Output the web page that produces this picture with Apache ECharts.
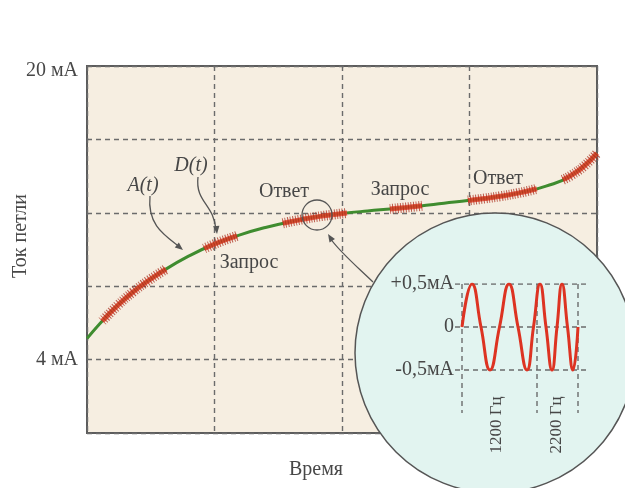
<!DOCTYPE html>
<html><head><meta charset="utf-8">
<script src="https://cdn.jsdelivr.net/npm/echarts@6/dist/echarts.min.js"></script>
<style>html,body{margin:0;padding:0;background:#fff}#c{width:625px;height:488px}</style>
</head><body><div id="c"></div>
<script>
// Main loop current curve: time (0..100, 4 grid columns) and current, mA
const timeT  = [0, 2.5, 5, 10, 15, 20, 25, 30, 35, 40, 45, 50, 55, 60, 65, 70, 75, 80, 85, 90, 95, 100];
const loopMA = [5.15, 5.95, 6.7, 7.9, 8.85, 9.65, 10.3, 10.8, 11.2, 11.52, 11.78, 11.96, 12.1, 12.22, 12.36, 12.52, 12.68, 12.86, 13.1, 13.45, 14.05, 15.25];

// HART FSK bursts riding on the curve [time, mA]
const burst1 = [[3, 6.1], [6, 6.95], [9, 7.68], [12, 8.3], [15.5, 8.93]];
const burst2 = [[23, 10.05], [26, 10.41], [29.4, 10.74]];
const burst3 = [[38.4, 11.43], [42, 11.63], [46, 11.82], [51, 11.99]];
const burst4 = [[59.4, 12.21], [62.5, 12.29], [65.7, 12.38]];
const burst5 = [[74.7, 12.67], [78, 12.78], [81, 12.9], [84.5, 13.07], [88.2, 13.31]];
const burst6 = [[93.3, 13.8], [95, 14.05], [97.5, 14.55], [100, 15.25]];

// Main axis tick labels
const yTickLabels = { 20: '20 мА', 4: '4 мА' };

// Inset: FSK signal (x in inset units, amplitude in mA)
const waveX  = [7, 17, 26, 35, 44.5, 54, 63, 72, 78.5, 85, 91, 97, 102, 107, 112.5, 118, 123];
const waveMA = [0, 0.5, 0, -0.5, 0, 0.5, 0, -0.5, 0, 0.5, 0, -0.5, 0, 0.5, 0, -0.5, 0];
const insetLevels = [0.5, 0, -0.5];
const insetTickLabels = { '0.5': '+0,5мА', '0': '0', '-0.5': '-0,5мА' };
const insetMarks = [7, 82, 123];
const freqLabels = ['1200 Гц', '2200 Гц'];

const serif = '"Liberation Serif", "Times New Roman", serif';
const txt = '#474747';
const gridLine = { color: '#6b6b6b', type: [5, 4], width: 1.4 };

const chart = echarts.init(document.getElementById('c'), null, { renderer: 'canvas' });

const series = [];
series.push({
  type: 'line', xAxisIndex: 0, yAxisIndex: 0, z: 2, silent: true,
  data: timeT.map((t, i) => [t, loopMA[i]]),
  smooth: 0.5, showSymbol: false, symbol: 'none',
  lineStyle: { color: '#3f8c2f', width: 3 }
});
[burst1, burst2, burst3, burst4, burst5, burst6].forEach(b => {
  series.push({
    type: 'line', xAxisIndex: 0, yAxisIndex: 0, z: 3, silent: true,
    data: b, smooth: 0.5, symbol: 'none',
    lineStyle: { color: '#e8412a', width: 5, opacity: 0.85 }
  });
  series.push({
    type: 'line', xAxisIndex: 0, yAxisIndex: 0, z: 3, silent: true,
    data: b, smooth: 0.5, symbol: 'none',
    lineStyle: { color: '#a92c1c', width: 10, type: [1, 1.6], opacity: 0.75 }
  });
});
insetLevels.forEach(l => {
  series.push({
    type: 'line', xAxisIndex: 1, yAxisIndex: 1, z: 10, silent: true,
    data: [[0, l], [133, l]], symbol: 'none', lineStyle: gridLine
  });
});
insetMarks.forEach(m => {
  series.push({
    type: 'line', xAxisIndex: 1, yAxisIndex: 1, z: 10, silent: true,
    data: [[m, 0.5], [m, -1]], symbol: 'none', lineStyle: gridLine
  });
});
series.push({
  type: 'line', xAxisIndex: 1, yAxisIndex: 1, z: 11, silent: true,
  data: waveX.map((x, i) => [x, waveMA[i]]), smooth: 0.5, symbol: 'none',
  lineStyle: { color: '#dd3322', width: 3 }
});

const arrowStyle = { stroke: '#555', lineWidth: 1.3, fill: null };
function head(x, y, ang) {
  const L = 8, W = 3.2;
  const c = Math.cos(ang), s = Math.sin(ang);
  return {
    type: 'polygon', z: 7,
    shape: { points: [[x, y], [x - L * c + W * s, y - L * s - W * c], [x - L * c - W * s, y - L * s + W * c]] },
    style: { fill: '#555' }
  };
}
function text(t, x, y, opts) {
  return {
    type: 'text', x: x, y: y, z: 12,
    style: Object.assign({ text: t, fontSize: 20, fontFamily: serif, fill: txt, align: 'center', verticalAlign: 'middle' }, opts || {})
  };
}

const graphics = [
  { type: 'circle', z: 4, shape: { cx: 495, cy: 353, r: 140 }, style: { fill: '#e2f4f0', stroke: '#555', lineWidth: 1.5 } },
  { type: 'circle', z: 7, shape: { cx: 317, cy: 215, r: 15 }, style: { fill: null, stroke: '#555', lineWidth: 1.3 } },
  { type: 'bezierCurve', z: 7, shape: { x1: 150, y1: 196, cpx1: 147, cpy1: 226, cpx2: 166, cpy2: 236, x2: 181, y2: 248 }, style: arrowStyle },
  head(183, 250, Math.atan2(250 - 236, 183 - 166)),
  { type: 'bezierCurve', z: 7, shape: { x1: 198, y1: 177, cpx1: 195, cpy1: 202, cpx2: 214, cpy2: 204, x2: 216, y2: 230 }, style: arrowStyle },
  head(217, 234, Math.atan2(234 - 204, 217 - 214)),
  { type: 'bezierCurve', z: 7, shape: { x1: 373, y1: 282, cpx1: 352, cpy1: 262, cpx2: 338, cpy2: 250, x2: 330, y2: 238 }, style: arrowStyle },
  head(328, 234, Math.atan2(234 - 250, 328 - 338)),
  text('A(t)', 143, 186, { fontStyle: 'italic' }),
  text('D(t)', 191, 166, { fontStyle: 'italic' }),
  text('Ответ', 284, 192),
  text('Запрос', 249, 263),
  text('Запрос', 400, 190),
  text('Ответ', 498, 179),
  text('Время', 316, 470),
  { type: 'text', x: 21, y: 236, z: 12, rotation: Math.PI / 2,
    style: { text: 'Ток петли', fontSize: 20, fontFamily: serif, fill: txt, align: 'center', verticalAlign: 'middle' } },
  { type: 'text', x: 497, y: 425, z: 12, rotation: Math.PI / 2,
    style: { text: freqLabels[0], fontSize: 17, fontFamily: serif, fill: txt, align: 'center', verticalAlign: 'middle' } },
  { type: 'text', x: 557, y: 425, z: 12, rotation: Math.PI / 2,
    style: { text: freqLabels[1], fontSize: 17, fontFamily: serif, fill: txt, align: 'center', verticalAlign: 'middle' } }
];

chart.setOption({
  animation: false,
  backgroundColor: '#ffffff',
  grid: [
    { left: 87, top: 66, width: 510, height: 367, show: true, backgroundColor: '#f6eee1', borderColor: '#5c5c5c', borderWidth: 2 },
    { left: 455, top: 284, width: 133, height: 129, show: false, z: 10 }
  ],
  xAxis: [
    { gridIndex: 0, type: 'value', min: 0, max: 100, interval: 25,
      axisLine: { show: false }, axisTick: { show: false }, axisLabel: { show: false },
      splitLine: { show: true, lineStyle: gridLine } },
    { gridIndex: 1, type: 'value', min: 0, max: 133, show: false }
  ],
  yAxis: [
    { gridIndex: 0, type: 'value', min: 0, max: 20, interval: 4,
      axisLine: { show: false }, axisTick: { show: false },
      splitLine: { show: true, lineStyle: gridLine },
      axisLabel: { margin: 9, color: txt, fontFamily: serif, fontSize: 20,
        formatter: v => v === 20 ? '{t|' + yTickLabels[20] + '}' : (yTickLabels[v] || ''),
        rich: { t: { fontFamily: serif, fontSize: 20, color: txt, padding: [10, 0, 0, 0] } } } },
    { gridIndex: 1, type: 'value', min: -1, max: 0.5, interval: 0.5, z: 10,
      axisLine: { show: false }, axisTick: { show: false }, splitLine: { show: false },
      axisLabel: { margin: 1, color: txt, fontFamily: serif, fontSize: 20,
        formatter: v => insetTickLabels[String(v)] || '' } }
  ],
  series: series,
  graphic: graphics
});
</script>
</body></html>
